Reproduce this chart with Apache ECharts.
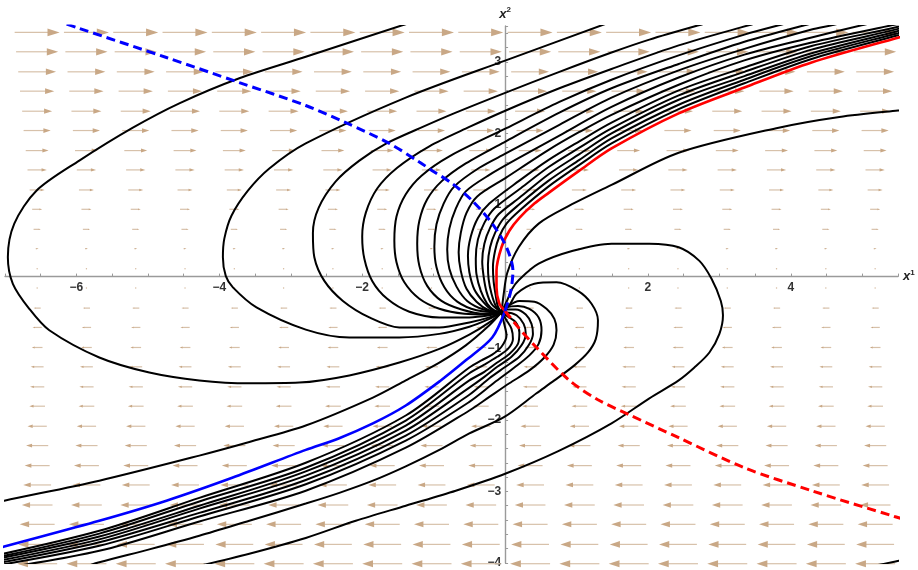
<!DOCTYPE html>
<html>
<head>
<meta charset="utf-8">
<script src="https://cdn.jsdelivr.net/npm/echarts@6/dist/echarts.min.js"></script>
<style>
  html, body { margin: 0; padding: 0; background: #ffffff; }
  #chart { width: 918px; height: 570px; }
</style>
</head>
<body>
<div id="chart"></div>
<script>
// Point where every trajectory meets, and start of the red / blue curves
const F = [-0.05, -0.50];
const O = [0.00, -0.48];

// Tick labels
const xTickLabels = [-6, -4, -2, 2, 4];
const yTickLabels = [-4, -3, -2, -1, 1, 2, 3];

// Direction field: sample columns, rows and signed horizontal magnitude per row
const fieldX = [-6.55, -5.86, -5.17, -4.48, -3.79, -3.10, -2.41, -1.72, -1.03, -0.34,
                0.35, 1.04, 1.73, 2.42, 3.11, 3.80, 4.49, 5.18];
const fieldY = [-4.01, -3.74, -3.46, -3.19, -2.91, -2.64, -2.36, -2.09, -1.81, -1.54,
                -1.26, -0.99, -0.71, -0.44, -0.16, 0.11, 0.39, 0.66, 0.94, 1.21,
                1.49, 1.76, 2.04, 2.31, 2.59, 2.86, 3.14, 3.41];
const fieldV = [-0.56, -0.53, -0.49, -0.43, -0.39, -0.35, -0.31, -0.27, -0.22, -0.20,
                -0.18, -0.15, -0.13, -0.10, -0.02, 0.015, 0.04, 0.10, 0.14, 0.21,
                0.27, 0.32, 0.38, 0.42, 0.48, 0.53, 0.59, 0.63];

// Trajectories looping to the left of the meeting point
const leftLoop1 = [[-1.13,3.60],[-1.44,3.51],[-2.79,3.07],[-3.72,2.77],[-4.56,2.42],[-5.21,2.08],[-5.96,1.62],[-6.56,1.20],[-6.87,0.74],[-6.96,0.27],[-6.89,-0.10],[-6.66,-0.45],[-6.38,-0.75],[-5.68,-1.13],[-4.98,-1.34],[-4.28,-1.45],[-3.58,-1.49],[-2.88,-1.48],[-2.18,-1.38],[-1.48,-1.20],[-0.92,-1.01],[-0.50,-0.81],[-0.22,-0.64],F];
const leftLoop2 = [[1.60,3.60],[0.01,3.02],[-1.39,2.50],[-2.79,1.86],[-3.30,1.51],[-3.60,1.20],[-3.83,0.85],[-3.93,0.53],[-3.95,0.27],[-3.91,0.01],[-3.81,-0.15],[-3.48,-0.43],[-2.79,-0.74],[-2.18,-0.85],[-1.48,-0.85],[-0.92,-0.80],[-0.50,-0.70],[-0.22,-0.59],F];
const leftLoop3 = [[3.05,3.60],[2.71,3.51],[2.02,3.31],[1.49,3.13],[0.76,2.86],[0.01,2.57],[-0.69,2.29],[-1.20,2.07],[-1.66,1.86],[-2.04,1.62],[-2.37,1.33],[-2.61,0.96],[-2.69,0.61],[-2.67,0.27],[-2.53,-0.06],[-2.27,-0.34],[-1.90,-0.57],[-1.48,-0.71],[-0.92,-0.71],[-0.50,-0.64],[-0.22,-0.57],F];
const leftLoop4 = [[3.75,3.60],[3.41,3.51],[2.43,3.23],[1.49,2.90],[0.76,2.63],[0.01,2.32],[-0.50,2.09],[-1.06,1.82],[-1.51,1.52],[-1.79,1.23],[-1.95,0.89],[-2.00,0.56],[-1.97,0.25],[-1.86,-0.06],[-1.65,-0.31],[-1.34,-0.49],[-0.92,-0.57],[-0.50,-0.57],[-0.22,-0.54],F];
const leftLoop5 = [[4.19,3.60],[3.83,3.51],[3.35,3.38],[2.43,3.09],[1.49,2.75],[0.76,2.44],[0.01,2.07],[-0.78,1.68],[-1.17,1.41],[-1.39,1.15],[-1.52,0.84],[-1.55,0.50],[-1.52,0.20],[-1.41,-0.08],[-1.20,-0.31],[-0.92,-0.45],[-0.57,-0.52],[-0.25,-0.53],F];
const leftLoop6 = [[4.56,3.60],[4.19,3.51],[3.35,3.28],[2.43,2.97],[1.49,2.63],[0.76,2.29],[0.01,1.89],[-0.55,1.58],[-0.89,1.33],[-1.09,1.08],[-1.20,0.78],[-1.23,0.46],[-1.20,0.15],[-1.09,-0.13],[-0.89,-0.34],[-0.61,-0.46],[-0.29,-0.52],F];
const leftLoop7 = [[4.93,3.60],[4.57,3.51],[4.29,3.45],[3.35,3.18],[2.43,2.88],[1.49,2.50],[0.76,2.12],[0.01,1.72],[-0.36,1.52],[-0.71,1.26],[-0.86,1.02],[-0.96,0.73],[-0.99,0.42],[-0.96,0.13],[-0.85,-0.15],[-0.67,-0.35],[-0.40,-0.47],F];
const leftLoop8 = [[5.40,3.60],[4.99,3.51],[4.29,3.34],[3.35,3.10],[2.43,2.78],[1.49,2.37],[0.76,1.97],[0.20,1.66],[-0.22,1.42],[-0.55,1.19],[-0.69,0.95],[-0.78,0.67],[-0.81,0.38],[-0.78,0.11],[-0.68,-0.14],[-0.53,-0.34],[-0.30,-0.46],F];
const leftLoop9 = [[5.86,3.60],[5.41,3.51],[4.29,3.27],[3.35,3.02],[2.43,2.68],[1.49,2.26],[1.04,2.02],[0.61,1.77],[0.01,1.38],[-0.39,1.12],[-0.54,0.89],[-0.62,0.61],[-0.65,0.34],[-0.62,0.08],[-0.54,-0.17],[-0.40,-0.35],[-0.23,-0.47],F];
const leftLoop10 = [[5.94,3.61],[5.50,3.49],[4.29,3.22],[3.35,2.92],[2.43,2.60],[1.49,2.15],[1.04,1.89],[0.61,1.63],[0.20,1.34],[-0.22,1.02],[-0.38,0.82],[-0.48,0.56],[-0.52,0.29],[-0.50,0.06],[-0.43,-0.18],[-0.30,-0.36],[-0.18,-0.47],F];
const leftLoop11 = [[5.94,3.58],[5.50,3.46],[4.29,3.17],[3.35,2.86],[2.43,2.53],[1.49,2.07],[1.04,1.80],[0.61,1.53],[0.20,1.22],[-0.15,0.95],[-0.29,0.75],[-0.38,0.52],[-0.41,0.25],[-0.40,0.03],[-0.34,-0.20],[-0.25,-0.38],[-0.15,-0.47],F];
const leftLoop12 = [[5.94,3.55],[5.50,3.43],[4.29,3.12],[3.35,2.80],[2.43,2.47],[1.49,2.00],[1.04,1.71],[0.61,1.43],[0.20,1.10],[-0.09,0.87],[-0.21,0.68],[-0.29,0.46],[-0.32,0.21],[-0.30,0.00],[-0.26,-0.21],[-0.19,-0.38],F];
const leftLoop13 = [[5.94,3.52],[5.50,3.40],[4.29,3.08],[3.35,2.75],[2.43,2.40],[1.49,1.93],[1.04,1.63],[0.61,1.34],[0.20,1.01],[-0.03,0.80],[-0.14,0.61],[-0.21,0.41],[-0.24,0.17],[-0.23,-0.04],[-0.19,-0.24],[-0.13,-0.41],F];
const leftLoop14 = [[5.94,3.49],[5.50,3.37],[4.29,3.04],[3.35,2.70],[2.43,2.34],[1.49,1.86],[1.04,1.56],[0.61,1.26],[0.20,0.92],[0.02,0.74],[-0.08,0.56],[-0.14,0.36],[-0.17,0.13],[-0.16,-0.07],[-0.13,-0.27],[-0.10,-0.42],F];

// Trajectory leaving to the upper right below the red curve
const rightArc = [F,[-0.02,-0.25],[0.03,0.05],[0.19,0.41],[0.47,0.74],[0.90,0.99],[1.49,1.28],[2.43,1.73],[3.83,2.08],[4.68,2.23],[5.50,2.32],[5.94,2.36]];

// Trajectories looping to the right and sweeping down to the lower left
const rightLoop1 = [F,[0.03,-0.33],[0.10,-0.17],[0.19,-0.05],[0.47,0.18],[0.95,0.36],[1.49,0.46],[2.02,0.46],[2.43,0.41],[2.72,0.22],[2.89,-0.03],[3.02,-0.34],[3.05,-0.54],[3.00,-0.80],[2.86,-1.06],[2.65,-1.27],[2.43,-1.45],[2.02,-1.70],[1.49,-2.05],[0.76,-2.43],[0.01,-2.75],[-0.69,-2.99],[-1.39,-3.20],[-2.09,-3.41],[-2.79,-3.65],[-3.58,-3.87],[-4.28,-4.04]];
const rightLoop2 = [F,[0.06,-0.40],[0.16,-0.24],[0.41,-0.10],[0.72,-0.08],[1.02,-0.20],[1.21,-0.38],[1.30,-0.61],[1.27,-0.87],[1.16,-1.06],[0.97,-1.24],[0.69,-1.45],[0.44,-1.63],[-0.01,-1.96],[-0.50,-2.19],[-0.92,-2.42],[-1.39,-2.65],[-1.85,-2.85],[-2.32,-3.02],[-2.79,-3.17],[-3.58,-3.41],[-4.28,-3.62],[-4.98,-3.81],[-5.68,-3.99],[-5.96,-4.08]];
const rightLoop3 = [F,[0.04,-0.41],[0.20,-0.34],[0.41,-0.35],[0.58,-0.45],[0.69,-0.59],[0.72,-0.75],[0.68,-0.95],[0.55,-1.13],[0.34,-1.31],[0.06,-1.49],[-0.22,-1.68],[-0.50,-1.87],[-1.39,-2.39],[-2.79,-2.99],[-4.28,-3.42],[-5.68,-3.83],[-7.20,-4.10]];
const rightLoop4 = [F,[0.02,-0.43],[0.18,-0.41],[0.34,-0.45],[0.47,-0.57],[0.51,-0.75],[0.47,-0.94],[0.34,-1.10],[0.13,-1.27],[-0.15,-1.48],[-0.50,-1.75],[-1.39,-2.29],[-2.79,-2.90],[-4.28,-3.35],[-5.68,-3.76],[-7.20,-4.05]];
const rightLoop5 = [F,[0.01,-0.46],[0.15,-0.46],[0.29,-0.53],[0.37,-0.66],[0.39,-0.80],[0.33,-0.96],[0.20,-1.12],[-0.01,-1.27],[-0.22,-1.42],[-0.50,-1.65],[-1.39,-2.22],[-2.79,-2.84],[-4.28,-3.30],[-5.68,-3.71],[-7.20,-4.02]];
const rightLoop6 = [F,[0.02,-0.50],[0.16,-0.54],[0.26,-0.66],[0.29,-0.80],[0.23,-0.96],[0.09,-1.12],[-0.11,-1.26],[-0.29,-1.40],[-0.50,-1.55],[-1.39,-2.15],[-2.79,-2.78],[-4.28,-3.24],[-5.68,-3.67],[-7.20,-3.99]];
const rightLoop7 = [F,[0.04,-0.56],[0.15,-0.64],[0.20,-0.78],[0.18,-0.94],[0.06,-1.08],[-0.11,-1.20],[-0.29,-1.33],[-0.50,-1.45],[-1.39,-2.08],[-2.79,-2.72],[-4.28,-3.20],[-5.68,-3.63],[-7.20,-3.96]];
const rightLoop8 = [F,[0.02,-0.61],[0.09,-0.73],[0.11,-0.87],[0.04,-1.01],[-0.11,-1.12],[-0.29,-1.23],[-0.50,-1.35],[-1.39,-2.01],[-2.79,-2.67],[-4.28,-3.14],[-5.68,-3.59],[-7.20,-3.94]];
const rightLoop9 = [F,[-0.01,-0.67],[0.02,-0.82],[-0.05,-0.98],[-0.18,-1.09],[-0.33,-1.17],[-0.50,-1.27],[-1.39,-1.94],[-2.79,-2.60],[-4.28,-3.09],[-5.68,-3.55],[-7.20,-3.91]];

// Trajectory reaching the left edge just above the blue curve
const lowerLeftArc = [F,[-0.22,-0.68],[-0.55,-0.96],[-0.92,-1.20],[-1.39,-1.45],[-1.85,-1.69],[-2.79,-2.08],[-3.58,-2.31],[-4.28,-2.50],[-5.68,-2.85],[-7.01,-3.13],[-7.22,-3.18]];
// Short piece in the lower right corner
const cornerArc = [[5.00,-4.10],[5.17,-4.04],[5.51,-3.97],[5.70,-3.93]];

// Highlighted curves
const redSolid = [O,[-0.08,-0.38],[-0.12,-0.15],[-0.12,0.08],[-0.05,0.41],[0.06,0.64],[0.20,0.82],[0.41,1.02],[0.61,1.17],[1.04,1.48],[1.49,1.79],[2.43,2.28],[3.35,2.64],[4.29,2.99],[5.51,3.34],[5.94,3.46]];
const blueSolid = [O,[-0.18,-0.85],[-0.55,-1.17],[-0.90,-1.45],[-1.39,-1.80],[-1.85,-2.05],[-2.33,-2.26],[-2.79,-2.42],[-3.82,-2.81],[-4.74,-3.13],[-5.68,-3.41],[-7.01,-3.77],[-7.22,-3.83]];
const redDashed = [O,[0.16,-0.68],[0.44,-0.99],[0.90,-1.45],[1.30,-1.72],[1.74,-1.93],[2.43,-2.25],[3.35,-2.67],[4.29,-2.99],[5.45,-3.35],[5.94,-3.49]];
const blueDashed = [O,[0.08,-0.20],[0.11,0.08],[0.02,0.41],[-0.18,0.74],[-0.46,1.06],[-0.74,1.30],[-1.02,1.48],[-1.20,1.60],[-1.62,1.86],[-2.23,2.15],[-2.79,2.39],[-3.72,2.71],[-4.74,3.06],[-6.00,3.48],[-6.17,3.54]];

const blackCurves = [
  leftLoop1, leftLoop2, leftLoop3, leftLoop4, leftLoop5, leftLoop6, leftLoop7,
  leftLoop8, leftLoop9, leftLoop10, leftLoop11, leftLoop12, leftLoop13, leftLoop14,
  rightArc, rightLoop1, rightLoop2, rightLoop3, rightLoop4, rightLoop5, rightLoop6,
  rightLoop7, rightLoop8, rightLoop9, lowerLeftArc, cornerArc
];

// Axis ranges
const X_MIN = -7, X_MAX = 5.5, Y_MIN = -4, Y_MAX = 3.5;

// Build the field table [x, y, v]
const fieldData = [];
fieldY.forEach((y, i) => {
  fieldX.forEach(x => fieldData.push([x, y, fieldV[i]]));
});

const MINUS = '\u2212';
const fmtNum = v => (v < 0 ? MINUS + Math.abs(v) : String(v));
const labelFont = { color: '#333', fontSize: 12, fontWeight: 'bold', fontFamily: 'Liberation Sans, Arial, sans-serif' };
const nameRich = {
  v: { fontSize: 13, fontStyle: 'italic', fontWeight: 'bold', fontFamily: 'Liberation Sans, Arial, sans-serif', color: '#222' },
  s: { fontSize: 8, fontWeight: 'bold', fontFamily: 'Liberation Sans, Arial, sans-serif', color: '#222', verticalAlign: 'top', padding: [0, 0, 8, 0] }
};

// Plot area
const GRID = { left: 5, right: 20, top: 26, bottom: 7 };
const W = 918, H = 570;
const plotW = W - GRID.left - GRID.right;
const plotH = H - GRID.top - GRID.bottom;
// Shift the axes from the grid edges onto the zero lines
const xAxisOffset = -(plotH * (0 - Y_MIN) / (Y_MAX - Y_MIN));
const yAxisOffset = -(plotW * (0 - X_MIN) / (X_MAX - X_MIN));

const chart = echarts.init(document.getElementById('chart'), null, { renderer: 'canvas' });

function renderArrow(params, api) {
  const x = api.value(0), y = api.value(1), v = api.value(2);
  const tail = api.coord([x - v / 2, y]);
  const tip = api.coord([x + v / 2, y]);
  const dx = tip[0] - tail[0];
  const len = Math.abs(dx);
  const color = '#c9a886';
  if (len < 2) {
    return { type: 'circle', shape: { cx: (tip[0] + tail[0]) / 2, cy: tip[1], r: 0.7 }, style: { fill: color, opacity: 0.8 } };
  }
  const dir = dx > 0 ? 1 : -1;
  const h = Math.max(2, 0.27 * len);
  const hw = 0.32 * h;
  const base = tip[0] - dir * h;
  return {
    type: 'group',
    children: [
      { type: 'line', shape: { x1: tail[0], y1: tail[1], x2: base + dir * 0.5, y2: tip[1] },
        style: { stroke: '#d7c1aa', lineWidth: 1.2 } },
      { type: 'polygon', shape: { points: [[tip[0], tip[1]], [base, tip[1] - hw], [base, tip[1] + hw]] },
        style: { fill: color } }
    ]
  };
}

const series = [
  {
    type: 'custom',
    coordinateSystem: 'cartesian2d',
    data: fieldData,
    encode: { x: 0, y: 1 },
    renderItem: renderArrow,
    silent: true,
    z: 1
  }
];

blackCurves.forEach(d => series.push({
  type: 'line', data: d, smooth: 0.3, symbol: 'none', silent: true, clip: true,
  lineStyle: { color: '#000000', width: 2 }, z: 3
}));

series.push(
  { type: 'line', data: redSolid, smooth: 0.3, symbol: 'none', silent: true, clip: true,
    lineStyle: { color: '#ff0000', width: 2.6 }, z: 4 },
  { type: 'line', data: blueSolid, smooth: 0.3, symbol: 'none', silent: true, clip: true,
    lineStyle: { color: '#0000ff', width: 2.6 }, z: 4 },
  { type: 'line', data: redDashed, smooth: 0.3, symbol: 'none', silent: true, clip: true,
    lineStyle: { color: '#ff0000', width: 3, type: [9, 5] }, z: 4 },
  { type: 'line', data: blueDashed, smooth: 0.3, symbol: 'none', silent: true, clip: true,
    lineStyle: { color: '#0000ff', width: 3, type: [9, 5] }, z: 4 }
);

chart.setOption({
  animation: false,
  backgroundColor: '#ffffff',
  grid: Object.assign({ containLabel: false, outerBoundsMode: 'none' }, GRID),
  xAxis: {
    type: 'value', min: X_MIN, max: X_MAX, interval: 0.5,
    offset: xAxisOffset,
    axisLine: { onZero: false, lineStyle: { color: '#9a9a9a', width: 1.4 } },
    axisTick: { show: true, inside: true, length: 3, lineStyle: { color: '#9a9a9a', width: 1 } },
    axisLabel: Object.assign({ margin: 5, formatter: v => xTickLabels.includes(v) ? fmtNum(v) : '' }, labelFont),
    splitLine: { show: false },
    name: '{v|x}{s|1}', nameLocation: 'end', nameGap: 5,
    nameTextStyle: { rich: nameRich }
  },
  yAxis: {
    type: 'value', min: Y_MIN, max: Y_MAX, interval: 0.2,
    offset: yAxisOffset,
    axisLine: { onZero: false, lineStyle: { color: '#9a9a9a', width: 1.4 } },
    axisTick: { show: true, inside: true, length: 3, lineStyle: { color: '#9a9a9a', width: 1 } },
    axisLabel: Object.assign({ margin: 4, formatter: v => {
      const r = Math.round(v);
      return (Math.abs(v - r) < 1e-6 && yTickLabels.includes(r)) ? fmtNum(r) : '';
    } }, labelFont),
    splitLine: { show: false },
    name: '{v|x}{s|2}', nameLocation: 'end', nameGap: 4,
    nameTextStyle: { rich: nameRich }
  },
  series: series
});
</script>
</body>
</html>
